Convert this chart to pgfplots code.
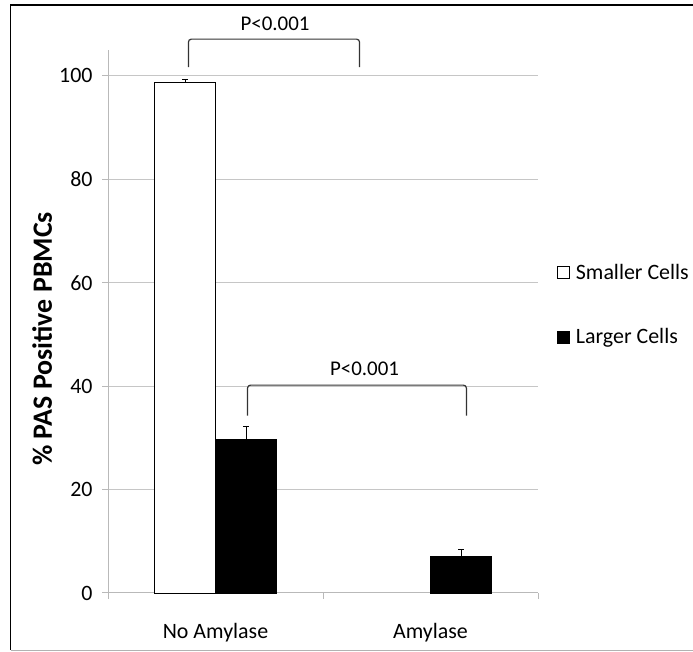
\documentclass[border=0pt]{standalone}
\usepackage{fontspec}
\setmainfont{Carlito}
\usepackage{pgfplots}
\pgfplotsset{compat=1.18}
\begin{document}
\begin{tikzpicture}[x=1bp,y=1bp]
\useasboundingbox (0,0) rectangle (693,652);
\draw[line width=1.6bp] (693,647) -- (10.5,647) -- (10.5,1.5);
\draw[gray!60, line width=1.4bp] (10.5,1.5) -- (693,1.5);
\begin{axis}[
  at={(108bp,59bp)}, anchor=south west, scale only axis,
  width=430bp, height=543bp,
  xmin=-0.5, xmax=1.5, ymin=0, ymax=105,
  ybar=0pt, bar width=61bp,
  clip=false,
  axis x line*=bottom, axis y line*=left,
  axis line style={draw=gray!55, line width=1bp, -},
  ytick={0,20,40,60,80,100},
  ymajorgrids, grid style={gray!45, line width=1bp},
  tick align=outside, major tick length=6bp,
  tick style={draw=gray!55, line width=1bp},
  xtick={-0.5,0.5,1.5}, xticklabels={},
  extra x ticks={0,1},
  extra x tick labels={No Amylase, Amylase},
  extra x tick style={major tick length=0pt, tick style={draw=none},
    xticklabel style={yshift=-27bp}},
  ticklabel style={font=\fontsize{22}{25}\selectfont},
  yticklabel style={xshift=-6bp},
  /pgf/number format/assume math mode=true,
  ylabel={\% PAS Positive PBMCs},
  ylabel style={font=\bfseries\fontsize{28}{32}\selectfont,
    at={(axis description cs:-0.153,0.468)}, anchor=center},
  legend style={draw=none, fill=none, at={(1.044,0.61)}, anchor=north west,
    inner sep=0pt, row sep=44bp, font=\fontsize{22}{25}\selectfont},
  legend cell align=left,
]
\addplot[ybar, fill=white, draw=black, line width=0.8bp,
  legend image code/.code={\draw[black, fill=white, line width=0.8bp] (0bp,-6bp) rectangle (12bp,6bp); \path (16bp,0bp);},
  error bars/y dir=plus, error bars/y explicit,
  error bars/error bar style={black, line width=0.8bp},
  error bars/error mark options={rotate=90, mark size=3bp, black, line width=0.8bp}]
  coordinates {(0,98.7) +- (0,0.6)};
\addlegendentry{Smaller Cells}
\addplot[ybar, fill=black, draw=black, line width=0.8bp,
  legend image code/.code={\draw[black, fill=black, line width=0.8bp] (0bp,-6bp) rectangle (12bp,6bp); \path (16bp,0bp);},
  error bars/y dir=plus, error bars/y explicit,
  error bars/error bar style={black, line width=0.8bp},
  error bars/error mark options={rotate=90, mark size=3bp, black, line width=0.8bp}]
  coordinates {(0,29.7) +- (0,2.6) (1,7.0) +- (0,1.5)};
\addlegendentry{Larger Cells}
\draw[line width=1.2bp, rounded corners=3bp, black!80]
  (axis cs:-0.126,101.7) -- (axis cs:-0.126,107.1) -- (axis cs:0.67,107.1) -- (axis cs:0.67,101.7);
\node[font=\fontsize{21}{24}\selectfont] at (axis cs:0.277,110.0) {P<0.001};
\draw[line width=1.2bp, rounded corners=3bp, black!80]
  (axis cs:0.149,34.3) -- (axis cs:0.149,40.2) -- (axis cs:1.167,40.2) -- (axis cs:1.167,34.3);
\node[font=\fontsize{21}{24}\selectfont] at (axis cs:0.693,43.3) {P<0.001};
\end{axis}
\end{tikzpicture}
\end{document}
